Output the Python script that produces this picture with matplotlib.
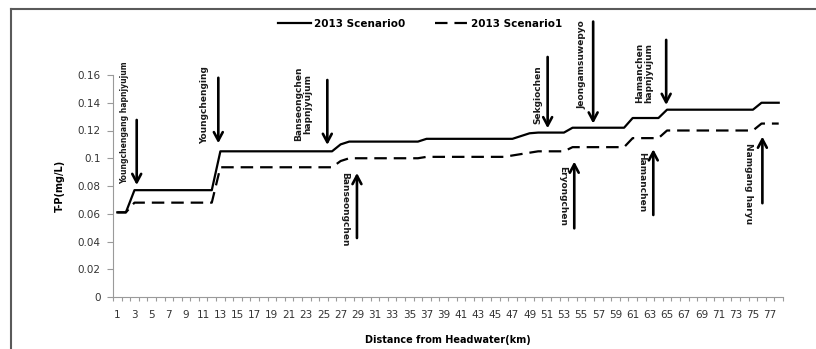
import numpy as np
import matplotlib
matplotlib.use("Agg")
import matplotlib.pyplot as plt
from matplotlib.lines import Line2D

plt.rcParams['font.family'] = ['DejaVu Sans']
plt.rcParams['lines.scale_dashes'] = False

# distance categories (km)
dist = list(range(1, 79))

# T-P (mg/L)
s0 = ([0.061] * 2 + [0.077] * 10 + [0.105] * 14 + [0.110] + [0.112] * 9 +
      [0.114] * 11 + [0.116, 0.118] + [0.1185] * 4 + [0.122] * 7 +
      [0.129] * 4 + [0.135] * 11 + [0.140] * 3)
s1 = ([0.061] * 2 + [0.068] * 10 + [0.0935] * 14 + [0.098] + [0.100] * 9 +
      [0.101] * 10 + [0.102, 0.103, 0.104] + [0.105] * 4 + [0.108] * 7 +
      [0.1145] * 4 + [0.120] * 11 + [0.125] * 3)

# annotations: label, text x, text y, rotation, arrow x, arrow tail y, arrow tip y
ann_labels = ["Youngchengang hapnjyujum", "Youngchenging", "Banseongchen\nhapnjyujum",
              "Banseongchen", "Sekgiochen", "Jeongamsuwepyo", "Hamanchen\nhapnjyujum",
              "Eryongchen", "Hamanchen", "Namgang haryu"]
ann_tx = [1.9, 11.2, 22.6, 27.5, 50.0, 55.06, 62.3, 52.9, 62.0, 74.5]
ann_ty = [0.1255, 0.1384, 0.139, 0.0634, 0.146, 0.1673, 0.1613, 0.0725, 0.0827, 0.0815]
ann_rot = [90, 90, 90, 270, 90, 90, 90, 270, 270, 270]
ann_size = [5.5, 6.5, 6.5, 6.5, 6.5, 6.5, 6.5, 6.5, 6.5, 6.5]
arr_x = [3.26, 12.76, 25.45, 28.9, 51.1, 56.4, 64.9, 54.2, 63.4, 76.1]
arr_tail = [0.1276, 0.158, 0.1564, 0.0425, 0.173, 0.1985, 0.1853, 0.0495, 0.0591, 0.0676]
arr_tip = [0.0807, 0.1108, 0.1096, 0.0894, 0.1216, 0.125, 0.1384, 0.0976, 0.1065, 0.1156]

W, H = 816, 349
fig = plt.figure(figsize=(W / 100, H / 100), dpi=100)
ax = fig.add_axes([113 / W, 1 - 297 / H, 670 / W, 222 / H])

l0, = ax.plot(dist, s0, color='black', lw=1.6, label='2013 Scenario0')
l1, = ax.plot(dist, s1, color='black', lw=1.6, dashes=[9, 5], label='2013 Scenario1')

ax.set_xlim(0.5, 78.5)
ax.set_ylim(0, 0.16)
ax.set_yticks(np.arange(0, 0.161, 0.02))
ax.set_yticklabels(['0', '0.02', '0.04', '0.06', '0.08', '0.1', '0.12', '0.14', '0.16'])
ax.set_xticks(dist[::2])
ax.set_xticks(np.arange(0.5, 79, 1), minor=True)

axis_c = '#9a9a9a'
for side in ['top', 'right']:
    ax.spines[side].set_visible(False)
for side in ['left', 'bottom']:
    ax.spines[side].set_color(axis_c)
    ax.spines[side].set_linewidth(0.8)
ax.tick_params(axis='x', which='major', length=0, pad=9, labelsize=7.5, labelcolor='#333333')
ax.tick_params(axis='x', which='minor', length=3, color=axis_c, width=0.8)
ax.tick_params(axis='y', length=4, color=axis_c, width=0.8, pad=5, labelsize=7.5, labelcolor='#333333')

ax.set_xlabel('Distance from Headwater(km)', fontsize=7, fontweight='bold')
ax.xaxis.set_label_coords(0.5, -0.194)
ax.xaxis.label.set_va('center')
ax.set_ylabel('T-P(mg/L)', fontsize=7, fontweight='bold')
ax.yaxis.set_label_coords(-0.079, 0.5)
ax.yaxis.label.set_va('center')

for i in range(len(ann_labels)):
    ax.annotate('', xy=(arr_x[i], arr_tip[i]), xytext=(arr_x[i], arr_tail[i]),
                arrowprops=dict(arrowstyle='->,head_length=0.6,head_width=0.32',
                                lw=1.9, color='black', shrinkA=0, shrinkB=0),
                annotation_clip=False)
    ax.text(ann_tx[i], ann_ty[i], ann_labels[i], rotation=ann_rot[i], ha='center',
            va='center', fontsize=ann_size[i], fontweight='bold', color='#1a1a1a',
            linespacing=1.0, clip_on=False)

fig.legend(handles=[l0, l1], loc='center', bbox_to_anchor=(420 / W, 1 - 24 / H),
           ncol=2, frameon=False, prop={'size': 7.5, 'weight': 'bold'},
           handlelength=3.2, handletextpad=0.3, columnspacing=2.8)

# outer chart frame
border = '#5a5a5a'
fig.add_artist(Line2D([11 / W, 11 / W], [1 - 9 / H, 0], color=border, lw=1.5))
fig.add_artist(Line2D([11 / W, 1], [1 - 9 / H, 1 - 9 / H], color=border, lw=1.5))

fig.savefig('out.png', dpi=100)
